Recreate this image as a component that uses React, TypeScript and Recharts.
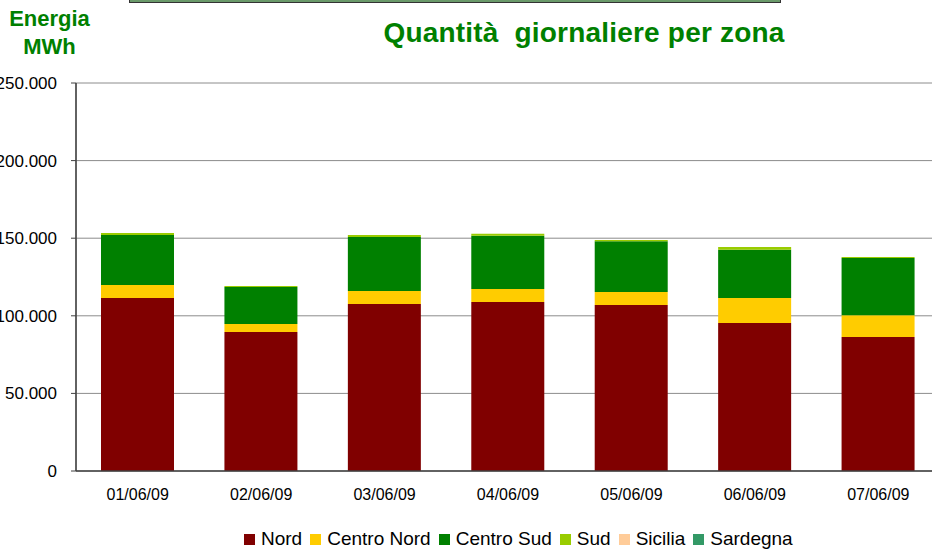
import React from 'react';
import {
  BarChart,
  Bar,
  XAxis,
  YAxis,
  CartesianGrid,
  Legend,
} from 'recharts';

const days = ['01/06/09', '02/06/09', '03/06/09', '04/06/09', '05/06/09', '06/06/09', '07/06/09'];
const nord = [111400, 89500, 107600, 108900, 106900, 95300, 86300];
const centroNord = [8400, 5200, 8400, 8400, 8400, 16100, 14100];
const centroSud = [32300, 23800, 34800, 34200, 32800, 31100, 36800];
const sud = [1300, 700, 1300, 1300, 700, 1900, 700];
const sicilia = [0, 0, 0, 0, 0, 0, 0];
const sardegna = [0, 0, 0, 0, 0, 0, 0];
const yTicks = [0, 50000, 100000, 150000, 200000, 250000];
const gridTicks = [0, 1, 2, 3, 4, 5, 6, 7];

const series = [
  { key: 'nord', name: 'Nord', color: '#800000' },
  { key: 'centroNord', name: 'Centro Nord', color: '#FFCC00' },
  { key: 'centroSud', name: 'Centro Sud', color: '#008000' },
  { key: 'sud', name: 'Sud', color: '#99CC00' },
  { key: 'sicilia', name: 'Sicilia', color: '#FFCC99' },
  { key: 'sardegna', name: 'Sardegna', color: '#339966' },
];

const chartData = days.map((day, i) => ({
  day,
  nord: nord[i],
  centroNord: centroNord[i],
  centroSud: centroSud[i],
  sud: sud[i],
  sicilia: sicilia[i],
  sardegna: sardegna[i],
}));

const fmt = (v: number) => String(v).replace(/\B(?=(\d{3})+(?!\d))/g, '.');

const font = '"Liberation Sans", Arial, sans-serif';

// legend kept in series order (recharts sorts by name otherwise)
function ZoneLegend() {
  return (
    <div style={{ display: 'flex', alignItems: 'center', fontFamily: font, fontSize: 19, lineHeight: '22px' }}>
      {series.map((s) => (
        <div key={s.key} style={{ display: 'flex', alignItems: 'center', marginRight: 8 }}>
          <span style={{ width: 11, height: 11, background: s.color, marginRight: 6, display: 'inline-block' }} />
          <span style={{ color: '#000' }}>{s.name}</span>
        </div>
      ))}
    </div>
  );
}

export default function App() {
  return (
    <div
      style={{
        position: 'absolute',
        left: 0,
        top: 0,
        width: 932,
        height: 550,
        overflow: 'hidden',
        background: '#fff',
        fontFamily: font,
      }}
    >
      <div
        style={{
          position: 'absolute',
          left: 129,
          top: -4,
          width: 650,
          height: 5,
          background: '#6a9a6a',
          border: '1px solid #333',
        }}
      />
      <div
        style={{
          position: 'absolute',
          left: 0,
          top: 5,
          width: 99,
          textAlign: 'center',
          color: '#008000',
          fontWeight: 'bold',
          fontSize: 22,
          lineHeight: '28px',
        }}
      >
        Energia
        <br />
        MWh
      </div>
      <div
        style={{
          position: 'absolute',
          left: 334,
          top: 17,
          width: 500,
          textAlign: 'center',
          color: '#008000',
          fontWeight: 'bold',
          fontSize: 28,
          lineHeight: '32px',
          letterSpacing: 0.2,
          whiteSpace: 'pre',
        }}
      >
        {'Quantità  giornaliere per zona'}
      </div>
      <div style={{ position: 'absolute', left: -4, top: 0 }}>
        <BarChart
          width={946}
          height={550}
          data={chartData}
          margin={{ top: 83, right: 2, bottom: 17, left: 0 }}
        >
          <CartesianGrid
            xAxisId="g"
            stroke="#8c8c8c"
            strokeWidth={1}
          />
          <XAxis
            xAxisId="g"
            type="number"
            domain={[0, 7]}
            ticks={gridTicks}
            tick={false}
            tickSize={5}
            tickLine={{ stroke: '#404040' }}
            axisLine={false}
            height={0}
          />
          <XAxis
            dataKey="day"
            tickLine={false}
            tickSize={0}
            tickMargin={18}
            height={40}
            axisLine={{ stroke: '#404040', strokeWidth: 1.5 }}
            tick={{ fontSize: 16, fill: '#000', fontFamily: font }}
            interval={0}
          />
          <YAxis
            width={80}
            domain={[0, 250000]}
            ticks={yTicks}
            tickFormatter={fmt}
            tickSize={5}
            tickMargin={14}
            axisLine={{ stroke: '#404040', strokeWidth: 1.5 }}
            tickLine={{ stroke: '#404040' }}
            tick={{ fontSize: 17, fill: '#000', fontFamily: font }}
            allowDataOverflow
          />
          <Legend
            verticalAlign="bottom"
            content={<ZoneLegend />}
            wrapperStyle={{ left: 248, width: 620, bottom: 0 }}
          />
          {series.map((s) => (
            <Bar
              key={s.key}
              dataKey={s.key}
              name={s.name}
              stackId="a"
              fill={s.color}
              barSize={73}
              isAnimationActive={false}
            />
          ))}
        </BarChart>
      </div>
    </div>
  );
}
